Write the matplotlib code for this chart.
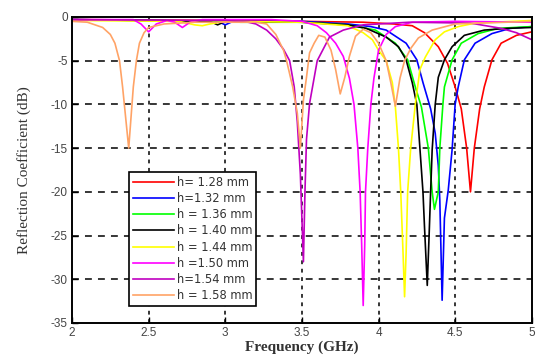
import matplotlib
matplotlib.use("Agg")
import matplotlib.pyplot as plt

plt.rcParams["axes.unicode_minus"] = False

# ── data (frequency in GHz, S11 in dB) ───────────────────────────────────────
labels = ["h= 1.28 mm", "h=1.32 mm", "h = 1.36 mm", "h = 1.40 mm",
          "h = 1.44 mm", "h =1.50 mm", "h=1.54 mm", "h = 1.58 mm"]
line_colors = ["#ff0000", "#0000ff", "#00ff00", "#000000",
               "#ffff00", "#ff00ff", "#c000c0", "#ffa366"]

f_128 = [2.0, 3.0, 3.5, 3.9, 4.1, 4.22, 4.3, 4.39, 4.45, 4.5, 4.54, 4.575, 4.6,
         4.625, 4.66, 4.69, 4.74, 4.8, 4.9, 5.0]
s_128 = [-0.3, -0.4, -0.5, -0.6, -0.8, -1.0, -1.8, -3.4, -5.3, -8.0, -10.5, -15.0, -20.0,
         -15.0, -10.5, -8.0, -4.9, -3.0, -2.1, -1.7]

f_132 = [2.0, 2.95, 3.0, 3.05, 3.5, 3.8, 3.95, 4.05, 4.18, 4.25, 4.29, 4.34, 4.37, 4.39,
         4.40, 4.415, 4.43, 4.455, 4.48, 4.5, 4.52, 4.56, 4.63, 4.74, 4.86, 5.0]
s_132 = [-0.3, -0.5, -0.9, -0.5, -0.5, -0.8, -1.1, -1.5, -3.0, -4.9, -7.5, -10.5, -13.3, -17.0,
         -21.0, -32.4, -23.0, -19.8, -15.2, -10.0, -8.0, -4.9, -3.0, -1.9, -1.3, -1.1]

f_136 = [2.0, 3.0, 3.1, 3.5, 3.8, 3.98, 4.11, 4.19, 4.24, 4.28, 4.325, 4.35, 4.365,
         4.39, 4.40, 4.42, 4.43, 4.48, 4.54, 4.65, 4.78, 5.0]
s_136 = [-0.3, -0.5, -0.6, -0.6, -0.9, -1.5, -3.0, -4.9, -8.0, -10.3, -15.0, -20.0, -22.0,
         -20.0, -15.0, -10.0, -8.0, -4.9, -3.0, -1.9, -1.3, -1.1]

f_140 = [2.0, 2.9, 2.95, 3.0, 3.5, 3.8, 3.92, 4.05, 4.13, 4.18, 4.22, 4.25, 4.27, 4.29,
         4.30, 4.318, 4.33, 4.34, 4.35, 4.37, 4.39, 4.43, 4.48, 4.56, 4.69, 4.84, 5.0]
s_140 = [-0.3, -0.5, -0.9, -0.5, -0.6, -0.9, -1.3, -2.3, -3.4, -4.9, -7.5, -10.0, -15.0, -20.0,
         -24.0, -30.7, -25.0, -20.0, -15.2, -10.0, -6.9, -4.9, -3.4, -2.1, -1.5, -1.3, -1.2]

f_144 = [2.0, 2.7, 2.8, 2.85, 2.9, 3.0, 3.5, 3.8, 3.9, 3.96, 4.0, 4.05, 4.09, 4.11, 4.13,
         4.145, 4.16, 4.17, 4.18, 4.19, 4.21, 4.24, 4.27, 4.305, 4.37, 4.43, 4.52, 4.63, 5.0]
s_144 = [-0.4, -0.5, -0.9, -1.0, -0.8, -0.5, -0.6, -1.0, -1.8, -2.6, -3.8, -5.0, -7.5, -10.3, -15.0,
         -20.0, -27.0, -32.0, -27.0, -20.0, -15.0, -10.0, -6.0, -4.6, -2.6, -1.7, -1.1, -0.7, -0.4]

f_150 = [2.0, 2.4, 2.45, 2.5, 2.55, 2.62, 2.67, 2.72, 2.77, 2.85, 3.3, 3.5, 3.6, 3.66,
         3.72, 3.77, 3.81, 3.84, 3.865, 3.88, 3.89, 3.9, 3.91, 3.915, 3.93, 3.95, 3.97,
         4.0, 4.05, 4.11, 4.22, 4.5, 5.0]
s_150 = [-0.3, -0.3, -0.8, -1.7, -0.8, -0.4, -0.6, -1.2, -0.6, -0.3, -0.3, -0.5, -1.0, -1.8,
         -3.0, -4.5, -7.0, -10.0, -15.0, -20.0, -26.0, -33.0, -26.0, -20.0, -15.0, -10.0, -7.0,
         -3.8, -2.0, -1.1, -0.6, -0.5, -0.6]

f_154 = [2.0, 3.0, 3.15, 3.2, 3.27, 3.33, 3.38, 3.42, 3.45, 3.47, 3.49, 3.51, 3.52, 3.53,
         3.55, 3.6, 3.68, 3.77, 3.9, 4.2, 4.6, 4.8, 4.9, 5.0]
s_154 = [-0.3, -0.4, -0.6, -0.8, -1.5, -2.5, -3.7, -5.0, -8.0, -12.0, -18.0, -28.0, -20.0, -14.0,
         -9.9, -5.0, -2.3, -1.5, -0.9, -0.6, -0.7, -1.3, -1.8, -2.6]

f_158 = [2.0, 2.1, 2.2, 2.25, 2.28, 2.31, 2.33, 2.35, 2.37, 2.385, 2.40, 2.42, 2.44, 2.47,
         2.5, 2.6, 2.8, 3.0, 3.2, 3.27, 3.33, 3.38, 3.40, 3.44, 3.47, 3.49, 3.51, 3.53,
         3.55, 3.58, 3.61, 3.65, 3.69, 3.72, 3.75, 3.78, 3.81, 3.85, 3.9, 3.95, 4.0, 4.05,
         4.08, 4.11, 4.14, 4.17, 4.21, 4.26, 4.35, 4.5, 5.0]
s_158 = [-0.5, -0.6, -1.2, -2.0, -3.0, -5.0, -8.0, -11.5, -15.0, -11.5, -8.0, -5.0, -3.0, -1.8,
         -1.2, -0.8, -0.6, -0.6, -0.6, -0.8, -2.0, -3.8, -5.0, -8.0, -11.0, -15.0, -9.5, -6.9,
         -4.1, -3.0, -2.1, -2.3, -3.8, -6.0, -8.8, -6.9, -4.5, -2.2, -1.4, -1.8, -3.0, -5.0,
         -7.5, -10.2, -7.0, -5.0, -3.6, -2.4, -1.5, -0.8, -0.5]

freqs = [f_128, f_132, f_136, f_140, f_144, f_150, f_154, f_158]
s11 = [s_128, s_132, s_136, s_140, s_144, s_150, s_154, s_158]

x_ticks = [2, 2.5, 3, 3.5, 4, 4.5, 5]
x_tick_labels = ["2", "2.5", "3", "3.5", "4", "4.5", "5"]
y_ticks = [-35, -30, -25, -20, -15, -10, -5, 0]

# ── figure ────────────────────────────────────────────────────────────────────
fig = plt.figure(figsize=(5.39, 3.56), dpi=100)
ax = fig.add_axes([0.1336, 0.0927, 0.853, 0.8596])

for f, s, c, lab in zip(freqs, s11, line_colors, labels):
    ax.plot(f, s, color=c, linewidth=1.2, label=lab)

ax.set_xlim(2, 5)
ax.set_ylim(-35, 0)
ax.set_xticks(x_ticks)
ax.set_xticklabels(x_tick_labels)
ax.set_yticks(y_ticks)

# MATLAB-style dashed grid
for x in x_ticks[1:-1]:
    ax.axvline(x, color="black", linewidth=1.1, linestyle=(0, (2.5, 3)), zorder=0)
for y in y_ticks[1:-1]:
    ax.axhline(y, color="black", linewidth=1.1, linestyle=(0, (4.5, 4)), zorder=0)

ax.tick_params(direction="in", length=4, width=1, labelsize=8.5, labelcolor="#444444",
               top=False, right=False, pad=3)
for lbl in ax.get_xticklabels() + ax.get_yticklabels():
    lbl.set_family("Liberation Sans")
for sp in ax.spines.values():
    sp.set_linewidth(1.4)

ax.set_xlabel("Frequency (GHz)", family="Liberation Serif", fontsize=11,
              fontweight="bold", color="#333333", labelpad=1)
ax.set_ylabel("Reflection Coefficient (dB)", family="Liberation Serif", fontsize=11,
              color="#333333", labelpad=14)

leg = ax.legend(loc="lower left", bbox_to_anchor=(0.1245, 0.0556), borderaxespad=0,
                prop={"family": "DejaVu Sans", "size": 8.3}, frameon=True,
                fancybox=False, handlelength=3.5, handletextpad=0.25, labelspacing=0.27,
                borderpad=0.35)
leg.get_frame().set_edgecolor("black")
leg.get_frame().set_linewidth(1.2)
leg.get_frame().set_alpha(1)
for t in leg.get_texts():
    t.set_color("#333333")

fig.savefig("out.png", dpi=100)
